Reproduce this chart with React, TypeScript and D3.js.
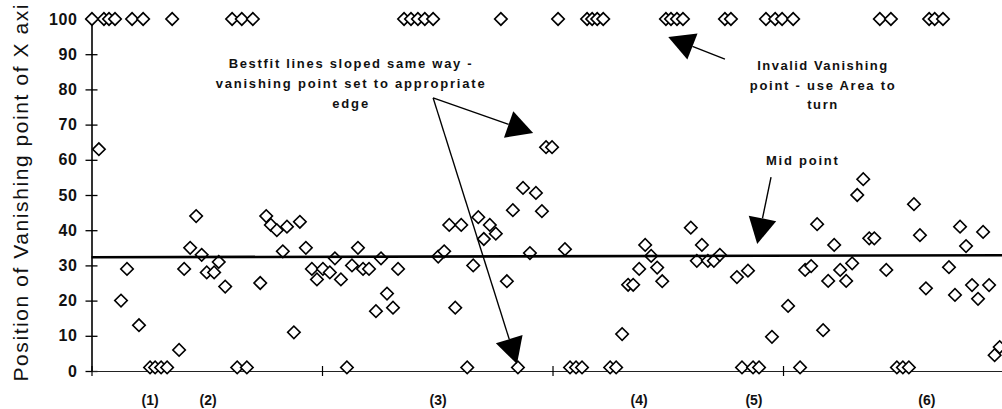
import React, { useEffect, useRef } from "react";
import * as d3 from "d3";

// samples whose vanishing point is invalid (pinned at 100)
const invalidPos = [
  0.1, 2.7, 3.8, 5.1, 8.8, 11.2, 17.5, 30.5, 32.6, 35.0, 67.8, 69.3, 70.8, 72.3,
  74.1, 88.8, 101.2, 107.5, 108.6, 109.7, 111.0, 124.6, 125.7, 127.0, 128.3,
  137.4, 138.7, 146.3, 148.3, 149.8, 152.2, 171.0, 173.4, 181.7, 182.9, 184.7,
];
// samples set to the lower edge
const edgePos = [
  12.7, 13.8, 15.1, 16.4, 31.6, 33.7, 55.4, 81.5, 92.5, 103.8, 105.1, 106.4,
  112.5, 113.8, 141.1, 143.5, 144.8, 153.7, 174.7, 176.0, 177.3,
];
const edgeVal = 1;
const invalidVal = 100;

const midPos = [
  1.6, 6.4, 7.7, 10.3, 19.0, 20.1, 21.4, 22.7, 23.9, 25.0, 26.6, 27.6, 29.0,
  36.6, 37.9, 38.9, 40.2, 41.5, 42.4, 43.9, 45.2, 46.5, 47.8, 48.9, 50.2, 51.7,
  52.8, 54.1, 56.5, 57.8, 58.9, 60.2, 61.7, 62.8, 64.1, 65.4, 66.5, 75.2, 76.5,
  77.6, 78.9, 80.2, 82.8, 83.9, 85.1, 86.4, 87.7, 90.1, 91.4, 93.6, 95.1, 96.4,
  97.7, 98.6, 99.9, 102.7, 115.1, 116.4, 117.5, 118.8, 120.1, 121.4, 122.7,
  123.8, 130.0, 131.3, 132.4, 133.7, 135.0, 136.3, 140.0, 142.4, 147.6, 151.1,
  154.8, 156.1, 157.4, 158.7, 159.8, 161.1, 162.4, 163.7, 165.0, 166.1, 167.4,
  168.7, 169.8, 172.4, 178.4, 179.7, 181.0, 186.0, 187.3, 188.4, 189.7, 191.0,
  192.3, 193.4, 194.7, 195.9, 197.0,
];
const midVal = [
  63, 20, 29, 13, 6, 29, 35, 44, 33, 28, 28, 31, 24,
  25, 44, 41.5, 40, 34, 41, 11, 42.4, 35, 29, 26, 29, 28,
  32, 26, 30, 35, 29, 29, 17, 32, 22, 18, 29, 32.5, 34,
  41.5, 18, 41.5, 30, 43.7, 37.5, 41.5, 39, 25.5, 45.7, 52, 33.5, 50.6,
  45.4, 63.6, 63.6, 34.6, 10.5, 24.5, 24.5, 29, 35.8, 32.7, 29.4,
  25.5, 40.7, 31.3, 35.8, 31.3, 31.3, 33, 26.7, 28.5, 9.7, 18.5,
  28.7, 29.8, 41.7, 11.6, 25.6, 35.8, 28.7, 25.6, 30.6, 50, 54.5,
  37.7, 37.7, 28.7, 47.4, 38.6, 23.5, 29.5, 21.6, 41, 35.5, 24.4,
  20.5, 39.5, 24.4, 4.5, 6.8,
];

// mid point line, value at start and at end of the x range
const fitLine = [32.3, 32.9];

const yTicks = [0, 10, 20, 30, 40, 50, 60, 70, 80, 90, 100];
const xTicks = [0, 50, 100, 150];
const xMax = 197.5;

const groupLabels = ["(1)", "(2)", "(3)", "(4)", "(5)", "(6)"];
const groupPos = [12.7, 25.3, 75.2, 118.8, 143.7, 181.2];

const yTitle = "Position of Vanishing point of X axi";

// annotation texts: lines, centre x, baseline y (data units), width in px
const bestfitLines = ["Bestfit lines sloped same way -", "vanishing point set to appropriate", "edge"];
const bestfitY = [86.2, 80.3, 74.6];
const bestfitW = [243, 269, 36];
const invalidLines = ["Invalid Vanishing", "point - use Area to", "turn"];
const invalidY = [85.6, 79.9, 74.4];
const invalidW = [130, 145, 30];
const midLines = ["Mid point"];
const midY = [58.5];
const midW = [72];
const noteX = [56.1, 158.5, 154.1];

// arrows: [fromX, fromY, toX, toY] in data units
const arrows = [
  [74.1, 77.6, 95.8, 67.6],
  [74.1, 77.6, 92.3, 2.0],
  [147.4, 55.1, 144.4, 36.1],
  [137.4, 88.6, 125.1, 94.9],
];

const W = 1002, H = 409;
const FONT = "'Liberation Sans', Arial, Helvetica, sans-serif";

export default function App() {
  const ref = useRef<SVGSVGElement>(null);

  useEffect(() => {
    const svg = d3.select(ref.current);
    svg.selectAll("*").remove();

    const x = d3.scaleLinear().domain([0, xMax]).range([91.5, W]);
    const y = d3.scaleLinear().domain([0, 100]).range([371, 19]);

    // y axis with crossing ticks
    const ya = svg.append("g")
      .attr("transform", "translate(" + x(0) + ",0)")
      .call(d3.axisLeft(y).tickValues(yTicks).tickSize(6).tickSizeOuter(0).tickPadding(8));
    ya.select(".domain").attr("stroke", "#000").attr("stroke-width", 1.6);
    ya.selectAll(".tick line").attr("x1", 6).attr("stroke", "#000").attr("stroke-width", 1.3);
    ya.selectAll(".tick text")
      .attr("font-family", FONT)
      .attr("font-size", 16)
      .attr("font-weight", "bold")
      .attr("letter-spacing", 0.6)
      .attr("fill", "#111");

    // x axis, no labels
    const xa = svg.append("g")
      .attr("transform", "translate(0," + y(0) + ")")
      .call(d3.axisBottom(x).tickValues(xTicks).tickSize(5).tickSizeOuter(0).tickFormat(() => ""));
    xa.select(".domain").attr("stroke", "#222").attr("stroke-width", 1.1);
    xa.selectAll(".tick line").attr("y1", -5).attr("stroke", "#000").attr("stroke-width", 1.2);

    // y title
    svg.append("text")
      .attr("transform", "translate(28," + 193 + ") rotate(-90)")
      .attr("text-anchor", "middle")
      .attr("font-family", FONT)
      .attr("font-size", 21)
      .attr("textLength", 377)
      .attr("lengthAdjust", "spacing")
      .attr("fill", "#111")
      .text(yTitle);

    // group labels
    svg.append("g").selectAll("text")
      .data(groupLabels)
      .join("text")
      .attr("x", (d, i) => x(groupPos[i]))
      .attr("y", 405)
      .attr("text-anchor", "middle")
      .attr("font-family", FONT)
      .attr("font-size", 14)
      .attr("font-weight", "bold")
      .attr("fill", "#111")
      .text(d => d);

    // markers
    const pts: [number, number][] = [];
    invalidPos.forEach(p => pts.push([p, invalidVal]));
    edgePos.forEach(p => pts.push([p, edgeVal]));
    midPos.forEach((p, i) => pts.push([p, midVal[i]]));
    pts.sort((a, b) => a[0] - b[0]);

    const diamond = d3.symbol().type(d3.symbolSquare).size(78);
    svg.append("g").selectAll("path")
      .data(pts)
      .join("path")
      .attr("d", diamond)
      .attr("transform", d => "translate(" + x(d[0]) + "," + y(d[1]) + ") rotate(45)")
      .attr("fill", "#fff")
      .attr("stroke", "#000")
      .attr("stroke-width", 1.6);

    // mid point line
    svg.append("line")
      .attr("x1", x(0)).attr("y1", y(fitLine[0]))
      .attr("x2", x(xMax)).attr("y2", y(fitLine[1]))
      .attr("stroke", "#000")
      .attr("stroke-width", 2.6);

    // annotation text
    const notes = [
      [bestfitLines, bestfitY, bestfitW],
      [invalidLines, invalidY, invalidW],
      [midLines, midY, midW],
    ] as [string[], number[], number[]][];
    notes.forEach(([lines, ys, ws], k) => {
      svg.append("g").selectAll("text")
        .data(lines)
        .join("text")
        .attr("x", x(noteX[k]))
        .attr("y", (d, i) => y(ys[i]))
        .attr("text-anchor", "middle")
        .attr("font-family", FONT)
        .attr("font-size", 13)
        .attr("font-weight", "bold")
        .attr("textLength", (d, i) => ws[i])
        .attr("lengthAdjust", "spacing")
        .attr("fill", "#111")
        .text(d => d);
    });

    // arrows
    const ag = svg.append("g");
    arrows.forEach(([fx, fy, tx, ty]) => {
      const x0 = x(fx), y0 = y(fy), x1 = x(tx), y1 = y(ty);
      const len = Math.hypot(x1 - x0, y1 - y0);
      const ux = (x1 - x0) / len, uy = (y1 - y0) / len;
      const bx = x1 - ux * 26, by = y1 - uy * 26;
      ag.append("line")
        .attr("x1", x0).attr("y1", y0).attr("x2", bx).attr("y2", by)
        .attr("stroke", "#000").attr("stroke-width", 1.4);
      ag.append("path")
        .attr("d", d3.line()([
          [x1, y1],
          [bx - uy * 14, by + ux * 14],
          [bx + uy * 14, by - ux * 14],
        ]) + "Z")
        .attr("fill", "#000");
    });
  }, []);

  return (
    <svg
      ref={ref}
      width={W}
      height={H}
      style={{ position: "absolute", left: 0, top: 0, background: "#fff", display: "block" }}
    />
  );
}
